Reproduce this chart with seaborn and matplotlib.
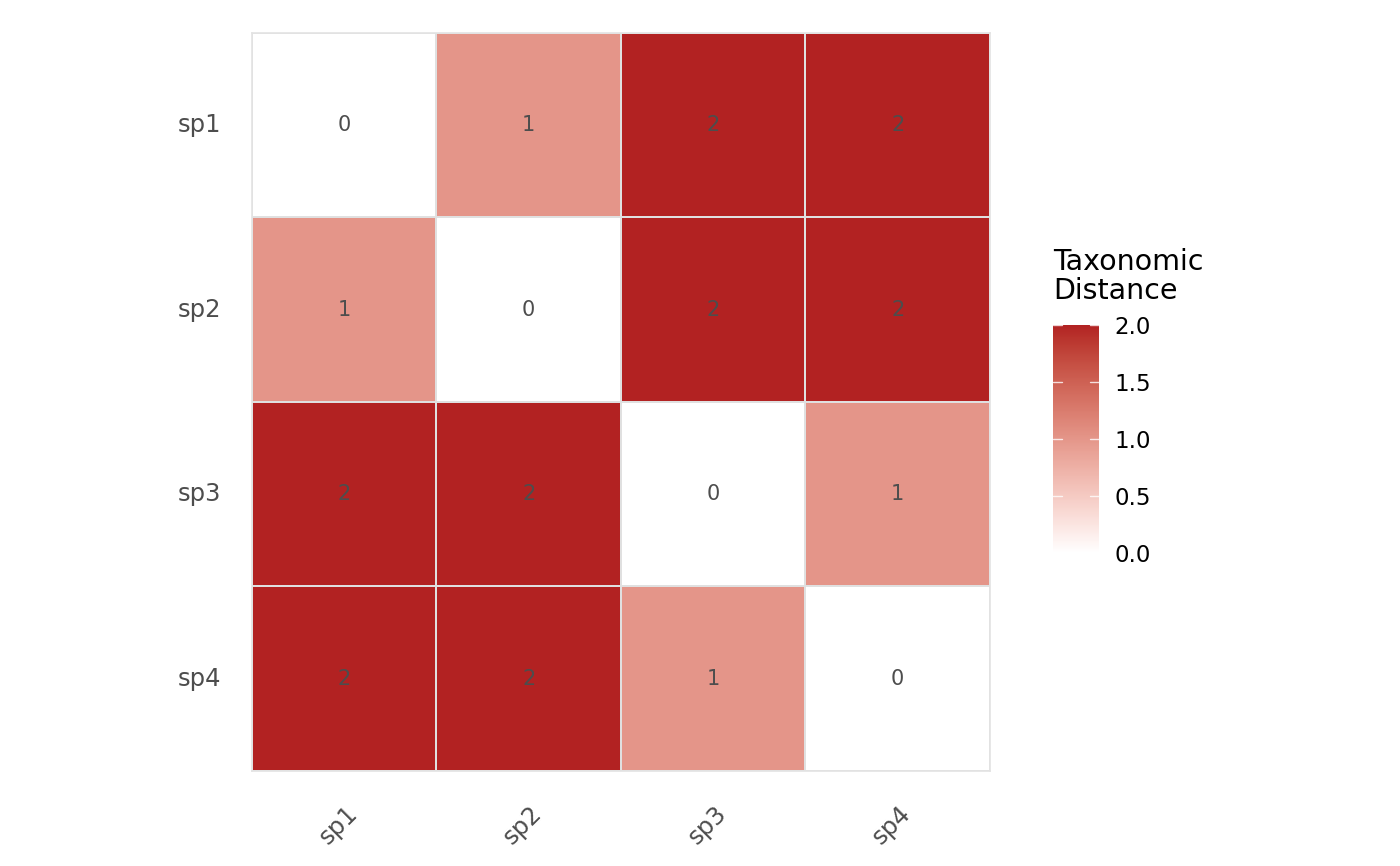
import numpy as np
import pandas as pd
import matplotlib
matplotlib.use("Agg")
import matplotlib.pyplot as plt
import matplotlib.transforms as mtransforms
import seaborn as sns
from matplotlib.colors import LinearSegmentedColormap

species = ["sp1", "sp2", "sp3", "sp4"]
distances = [
    [0, 1, 2, 2],
    [1, 0, 2, 2],
    [2, 2, 0, 1],
    [2, 2, 1, 0],
]
legend_title = "Taxonomic\nDistance"
cbar_ticks = [0.0, 0.5, 1.0, 1.5, 2.0]

df = pd.DataFrame(distances, index=species, columns=species)


# white -> firebrick, interpolated in Lab space like ggplot's gradient
def srgb_to_lab(rgb):
    c = np.array(rgb, dtype=float)
    c = np.where(c > 0.04045, ((c + 0.055) / 1.055) ** 2.4, c / 12.92)
    m = np.array([[0.4124, 0.3576, 0.1805],
                  [0.2126, 0.7152, 0.0722],
                  [0.0193, 0.1192, 0.9505]])
    xyz = m @ c / np.array([0.95047, 1.0, 1.08883])
    f = np.where(xyz > 0.008856, np.cbrt(xyz), 7.787 * xyz + 16 / 116)
    return np.array([116 * f[1] - 16, 500 * (f[0] - f[1]), 200 * (f[1] - f[2])])


def lab_to_srgb(lab):
    L, a, b = lab
    fy = (L + 16) / 116
    fx = fy + a / 500
    fz = fy - b / 200
    f = np.array([fx, fy, fz])
    xyz = np.where(f ** 3 > 0.008856, f ** 3, (f - 16 / 116) / 7.787)
    xyz = xyz * np.array([0.95047, 1.0, 1.08883])
    m = np.array([[3.2406, -1.5372, -0.4986],
                  [-0.9689, 1.8758, 0.0415],
                  [0.0557, -0.2040, 1.0570]])
    c = m @ xyz
    c = np.where(c > 0.0031308, 1.055 * np.clip(c, 0, None) ** (1 / 2.4) - 0.055, 12.92 * c)
    return np.clip(c, 0, 1)


lo = srgb_to_lab([1, 1, 1])
hi = srgb_to_lab([178 / 255, 34 / 255, 34 / 255])
stops = [lab_to_srgb(lo + (hi - lo) * t) for t in np.linspace(0, 1, 64)]
cmap = LinearSegmentedColormap.from_list("white_firebrick", stops)

sns.set_theme(style="white")
plt.rcParams["font.family"] = ["DejaVu Sans"]

fig = plt.figure(figsize=(14, 8.66), dpi=100)
ax = fig.add_axes([0.18, 0.1097, 0.5271, 0.8522])
cax = fig.add_axes([0.752, 0.3614, 0.033, 0.2633])

sns.heatmap(
    df, ax=ax, cbar_ax=cax, cmap=cmap, vmin=0, vmax=2,
    annot=True, fmt="d", annot_kws={"color": "#4D4D4D", "size": 15},
    linewidths=1.2, linecolor="#E0E0E0", square=False,
    cbar_kws={"ticks": cbar_ticks},
)

for spine in ax.spines.values():
    spine.set_visible(True)
    spine.set_color("#E3E3E3")
    spine.set_linewidth(1.2)

ax.set_xlabel("")
ax.set_ylabel("")
ax.tick_params(axis="both", length=0, labelsize=17.5, labelcolor="#4D4D4D")
ax.tick_params(axis="x", pad=22)
ax.tick_params(axis="y", pad=22)
shift = mtransforms.ScaledTranslation(-6 / 100, 0, fig.dpi_scale_trans)
for lbl in ax.get_xticklabels():
    lbl.set_rotation(45)
    lbl.set_ha("center")
    lbl.set_transform(lbl.get_transform() + shift)
plt.setp(ax.get_yticklabels(), rotation=0)

cax.tick_params(length=0, labelsize=16.5, labelcolor="black", pad=11)
cax.set_yticklabels([f"{t:.1f}" for t in cbar_ticks])
for t in cbar_ticks:
    cax.plot([0, 0.2], [t, t], color="white", lw=1, alpha=0.8)
    cax.plot([0.8, 1.0], [t, t], color="white", lw=1, alpha=0.8)
cax.set_xlim(0, 1)
for spine in cax.spines.values():
    spine.set_visible(False)
cax.set_title(legend_title, loc="left", fontsize=20.5, color="black",
              ha="left", pad=19, linespacing=1.05)

fig.savefig("out.png", dpi=100)
